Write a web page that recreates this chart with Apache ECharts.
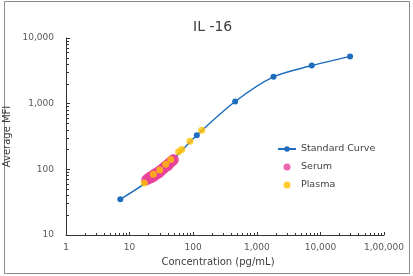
<!DOCTYPE html>
<html>
<head>
<meta charset="utf-8">
<script src="https://cdn.jsdelivr.net/npm/echarts@6/dist/echarts.min.js"></script>
<style>
  html, body { margin: 0; padding: 0; background: #fff; }
  #chart { width: 413px; height: 276px; }
</style>
</head>
<body>
<div id="chart"></div>
<script>
  // standard curve (4-fold dilutions), x = pg/mL, y = MFI
  let standardConc = [7.14, 28.6, 114, 457, 1829, 7316, 29265]
  let standardMfi = [35, 87, 330, 1080, 2560, 3800, 5250]

  let serumConc = [18.5, 19.5, 20.5, 21, 22, 22.5, 23.5, 24, 25, 26, 27, 28, 29, 30, 31, 32.5, 33.5, 35, 36, 37.5, 39, 40, 41.5, 43, 44.5, 46, 47.5, 49]
  let serumMfi = [69, 72, 73, 76, 75, 79, 81, 78, 85, 84, 89, 87, 93, 91, 97, 99, 103, 105, 110, 112, 117, 114, 122, 125, 130, 133, 137, 141]

  let plasmaConc = [17, 23.6, 29.7, 37, 44.3, 59, 66, 89, 136]
  let plasmaMfi = [62, 84, 98, 119, 141, 185, 201, 267, 393]

  let xTickLabels = ['1', '10', '100', '1,000', '10,000', '1,00,000']
  let yTickLabels = ['1', '10', '100', '1,000', '10,000']
  let xMinorTicks = [2,3,4,5,6,7,8,9, 20,30,40,50,60,70,80,90, 200,300,400,500,600,700,800,900,
    2000,3000,4000,5000,6000,7000,8000,9000, 20000,30000,40000,50000,60000,70000,80000,90000]
  let yMinorTicks = [20,30,40,50,60,70,80,90, 200,300,400,500,600,700,800,900, 2000,3000,4000,5000,6000,7000,8000,9000]

  let zip = (a, b) => a.map((v, i) => [v, b[i]])
  let font = 'DejaVu Sans, Verdana, sans-serif'

  let chart = echarts.init(document.getElementById('chart'))
  let option = {
    animation: false,
    title: {
      text: 'IL -16',
      left: 188,
      top: 15,
      textStyle: { fontFamily: font, fontSize: 14, fontWeight: 'normal', color: '#404040' }
    },
    legend: {
      orient: 'vertical',
      left: 277,
      top: 144,
      padding: 0,
      itemWidth: 18,
      itemHeight: 7,
      itemGap: 8,
      textStyle: { fontFamily: font, fontSize: 9.5, color: '#404040' },
      data: ['Standard Curve', 'Serum', 'Plasma']
    },
    graphic: [{
      type: 'rect',
      shape: { x: 4.5, y: 1.5, width: 405, height: 272 },
      style: { fill: 'none', stroke: '#8c8c8c', lineWidth: 1 },
      silent: true
    }],
    grid: { left: 66, right: 29, top: 38, bottom: 41, containLabel: false, outerBoundsMode: 'none' },
    xAxis: [{
      type: 'log',
      logBase: 10,
      min: 1,
      max: 100000,
      name: 'Concentration (pg/mL)',
      nameLocation: 'middle',
      nameGap: 22,
      nameMoveOverlap: false,
      nameTextStyle: { fontFamily: font, fontSize: 10, color: '#404040', padding: [0, 14, 0, 0] },
      axisLine: { lineStyle: { color: '#333', width: 1 } },
      axisTick: { inside: true, length: 3, lineStyle: { color: '#333' } },
      axisLabel: {
        margin: 8,
        fontFamily: font, fontSize: 9, color: '#595959',
        formatter: v => xTickLabels[Math.round(Math.log10(v))]
      },
      splitLine: { show: false }
    }, {
      type: 'log',
      logBase: 10,
      min: 1,
      max: 100000,
      position: 'bottom',
      axisLine: { show: false },
      axisLabel: { show: false },
      axisTick: { inside: true, length: 2, customValues: xMinorTicks, lineStyle: { color: '#333' } },
      splitLine: { show: false }
    }],
    yAxis: [{
      type: 'log',
      logBase: 10,
      min: 10,
      max: 10000,
      name: 'Average MFI',
      nameLocation: 'middle',
      nameGap: 54,
      nameMoveOverlap: false,
      nameTextStyle: { fontFamily: font, fontSize: 10, color: '#404040' },
      axisLine: { show: true, lineStyle: { color: '#333', width: 1 } },
      axisTick: { show: true, inside: true, length: 4, lineStyle: { color: '#333' } },
      axisLabel: {
        margin: 12,
        fontFamily: font, fontSize: 9, color: '#595959',
        formatter: v => yTickLabels[Math.round(Math.log10(v))]
      },
      splitLine: { show: false }
    }, {
      type: 'log',
      logBase: 10,
      min: 10,
      max: 10000,
      position: 'left',
      offset: 0,
      axisLine: { show: false },
      axisLabel: { show: false },
      axisTick: { show: true, inside: true, length: 3, customValues: yMinorTicks, lineStyle: { color: '#333' } },
      splitLine: { show: false }
    }],
    series: [{
      name: 'Standard Curve',
      type: 'line',
      smooth: 0.3,
      symbol: 'circle',
      symbolSize: 6,
      color: '#1F6EBE',
      lineStyle: { width: 1.5 },
      z: 2,
      data: zip(standardConc, standardMfi)
    }, {
      name: 'Serum',
      type: 'scatter',
      symbolSize: 11,
      color: '#E8419A',
      z: 3,
      data: zip(serumConc, serumMfi)
    }, {
      name: 'Plasma',
      type: 'scatter',
      symbolSize: 7,
      color: '#FFC000',
      z: 4,
      data: zip(plasmaConc, plasmaMfi)
    }]
  }
  chart.setOption(option)
</script>
</body>
</html>
